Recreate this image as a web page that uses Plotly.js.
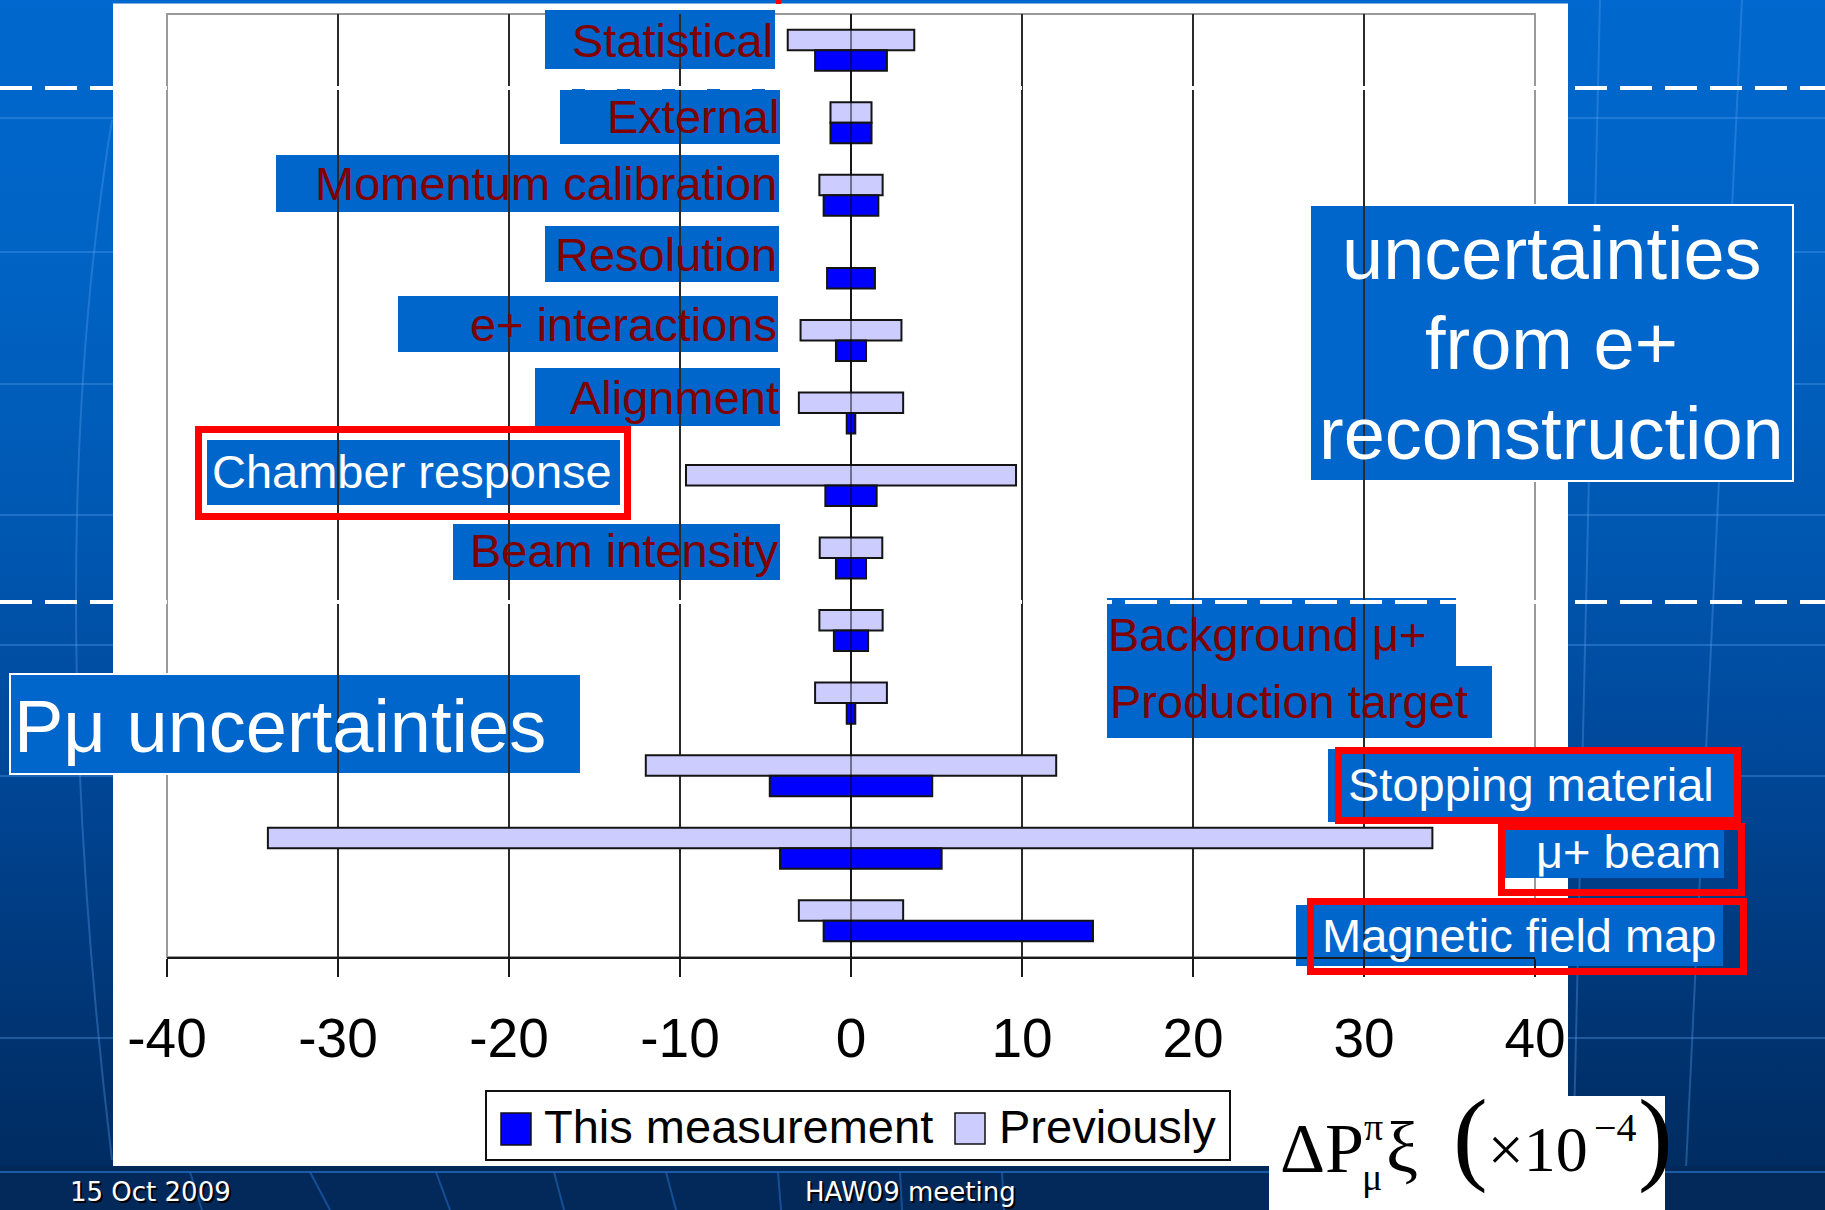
<!DOCTYPE html>
<html>
<head>
<meta charset="utf-8">
<script src="https://cdn.plot.ly/plotly-3.0.1.min.js"></script>
<style>
  html, body { margin: 0; padding: 0; width: 1825px; height: 1210px; overflow: hidden; }
  #slide {
    position: absolute; left: 0; top: 0; width: 1825px; height: 1210px;
    background: linear-gradient(180deg, #0068CE 0%, #0063C4 22%, #0057B0 45%, #00489A 62%, #003A7E 78%, #00306A 90%, #002A5C 100%);
  }
  #chart { position: absolute; left: 0; top: 0; width: 1825px; height: 1210px; }
</style>
</head>
<body>
<div id="slide"></div>
<div id="chart"></div>
<script>
// Systematic uncertainties on P_mu^pi xi, in units of 1e-4 (low / high ends of each bar)
const categories = [
  'Statistical', 'External', 'Momentum calibration', 'Resolution',
  'e+ interactions', 'Alignment', 'Chamber response', 'Beam intensity',
  'Background μ+', 'Production target', 'Stopping material', 'μ+ beam',
  'Magnetic field map'
];
const thisLow  = [-2.1, -1.2, -1.6, -1.4, -0.88, -0.25, -1.5, -0.88, -1.0, -0.25, -4.75, -4.15, -1.6];
const thisHigh = [ 2.1,  1.2,  1.6,  1.4,  0.88,  0.25,  1.5,  0.88,  1.0,  0.25,  4.75,  5.3, 14.15];
const prevLow  = [-3.7, -1.2, -1.85, null, -2.95, -3.05, -9.65, -1.83, -1.85, -2.1, -12.0, -34.1, -3.05];
const prevHigh = [ 3.7,  1.2,  1.85, null,  2.95,  3.05,  9.65,  1.83,  1.85,  2.1,  12.0,  34.0,  3.05];
const xTicks = [-40, -30, -20, -10, 0, 10, 20, 30, 40];
const seriesNames = ['This measurement', 'Previously'];
const seriesColors = ['#0000FF', '#CCCCFF'];

// ---- page geometry (pixels) ----
const W = 1825, H = 1210;
const ML = 167, MR = 290, MT = 14, MB = 253;
const PW = W - ML - MR, PH = H - MT - MB;
const px = v => (v - ML) / PW;
const py = v => 1 - (v - MT) / PH;
const SANS = 'Liberation Sans, Arial, sans-serif';
const SERIF = 'Liberation Serif, Times New Roman, serif';
const BOX_BLUE = '#0066CC';
const DARK_RED = '#800000';

function span(lo, hi) { return hi.map((h, i) => (h == null || lo[i] == null) ? null : h - lo[i]); }

const traces = [
  {
    type: 'bar', orientation: 'h', name: seriesNames[1],
    y: categories, base: prevLow, x: span(prevLow, prevHigh),
    marker: { color: seriesColors[1], line: { color: '#141414', width: 2 } },
    hoverinfo: 'skip'
  },
  {
    type: 'bar', orientation: 'h', name: seriesNames[0],
    y: categories, base: thisLow, x: span(thisLow, thisHigh),
    marker: { color: seriesColors[0], line: { color: '#141414', width: 2 } },
    hoverinfo: 'skip'
  }
];

// ---- helpers for page-space shapes and text ----
function rect(x0, y0, x1, y1, fill, lineColor, lineWidth, layer) {
  return {
    type: 'rect', xref: 'paper', yref: 'paper',
    x0: px(x0), x1: px(x1), y0: py(y1), y1: py(y0),
    fillcolor: fill || 'rgba(0,0,0,0)',
    line: { color: lineColor || 'rgba(0,0,0,0)', width: lineWidth || 0 },
    layer: layer || 'above'
  };
}
function seg(x0, y0, x1, y1, color, width, dash, layer) {
  return {
    type: 'line', xref: 'paper', yref: 'paper',
    x0: px(x0), x1: px(x1), y0: py(y0), y1: py(y1),
    line: { color, width, dash: dash || 'solid' }, layer: layer || 'above'
  };
}
// text placed by its left/right/centre x and its baseline y
function txt(text, x, baseline, anchor, size, color, family, descSize) {
  const desc = (family === SERIF ? 0.216 : 0.212) * (descSize || size);
  return {
    text, xref: 'paper', yref: 'paper', showarrow: false,
    x: px(x), y: py(baseline + desc + 2), xanchor: anchor, yanchor: 'bottom',
    font: { family: family || SANS, size, color }
  };
}

const shapes = [];
const annotations = [];

// faint pattern of the slide background
const patternCol = 'rgba(90,160,240,0.35)';
[118, 252, 384, 515, 645, 776, 1038].forEach(y => shapes.push(seg(0, y, W, y, patternCol, 2, 'solid', 'below')));
shapes.push({ type: 'path', xref: 'paper', yref: 'paper', layer: 'below',
  path: `M ${px(112)},${py(120)} Q ${px(40)},${py(560)} ${px(112)},${py(1160)}`,
  line: { color: patternCol, width: 2 } });
shapes.push(seg(1600, 0, 1572, 1210, patternCol, 2, 'solid', 'below'));
shapes.push(seg(1742, 0, 1684, 1210, patternCol, 2, 'solid', 'below'));

// white chart sheet
shapes.push(rect(113, 3.5, 1568, 1166, '#FFFFFF', null, 0, 'below'));
// footer band
shapes.push(rect(0, 1166, W, H, '#02295A', null, 0, 'below'));
shapes.push(seg(0, 1172, W, 1172, 'rgba(40,110,200,0.7)', 2, 'solid', 'below'));
[[190, 202], [310, 330], [436, 450], [554, 564], [666, 676], [778, 781], [900, 902], [1002, 1004]]
  .forEach(([a, b]) => shapes.push(seg(a, 1172, b, 1210, 'rgba(40,110,200,0.55)', 2, 'solid', 'below')));
// small red tick on the top strip
shapes.push(rect(776, 0, 781, 4, '#FF0000', null, 0, 'below'));

// plot-area frame
shapes.push({ type: 'rect', xref: 'paper', yref: 'paper', x0: 0, x1: 1, y0: 0, y1: 1,
  line: { color: '#9A9A9A', width: 2 }, fillcolor: 'rgba(0,0,0,0)', layer: 'between' });

// category label boxes: [box x0,y0,x1,y1], text x, anchor, baseline, white text, red frame
const labelBoxes = [
  { box: [545, 10, 775, 69],    tx: 775, anchor: 'right', base: 57 },
  { box: [560, 89, 780, 144],   tx: 781, anchor: 'right', base: 133 },
  { box: [276, 155, 779, 212],  tx: 779, anchor: 'right', base: 200 },
  { box: [545, 226, 779, 282],  tx: 779, anchor: 'right', base: 271 },
  { box: [398, 296, 778, 352],  tx: 779, anchor: 'right', base: 341 },
  { box: [535, 368, 780, 426],  tx: 781, anchor: 'right', base: 414 },
  { box: [207, 440, 620, 505],  tx: 210, anchor: 'left',  base: 488, white: true, frame: [195, 426, 631, 520] },
  { box: [453, 524, 780, 580],  tx: 781, anchor: 'right', base: 567 },
  { box: [1107, 598, 1456, 666], tx: 1106, anchor: 'left', base: 651 },
  { box: [1107, 666, 1492, 738], tx: 1108, anchor: 'left', base: 718 },
  { box: [1328, 749, 1737, 822], tx: 1346, anchor: 'left', base: 801, white: true, frame: [1335, 747, 1741, 824] },
  { box: [1502, 830, 1724, 878], tx: 1723, anchor: 'right', base: 868, white: true, frame: [1498, 823, 1745, 896] },
  { box: [1296, 905, 1723, 966], tx: 1320, anchor: 'left', base: 952, white: true, frame: [1307, 898, 1747, 975] }
];
labelBoxes.forEach((L, i) => {
  shapes.push(rect(L.box[0], L.box[1], L.box[2], L.box[3], BOX_BLUE, null, 0, 'between'));
  if (L.frame) {
    const f = L.frame, t = 3.5;
    shapes.push(rect(f[0] + t, f[1] + t, f[2] - t, f[3] - t, null, '#FF0000', 7, 'above'));
  }
  annotations.push(txt(categories[i], L.tx, L.base, L.anchor, 47, L.white ? '#FFFFFF' : DARK_RED));
});

// headline boxes
shapes.push(rect(10, 674, 581, 774, BOX_BLUE, '#FFFFFF', 2, 'between'));
annotations.push(txt('Pμ uncertainties', 12, 752, 'left', 74, '#FFFFFF'));
shapes.push(rect(1310, 205, 1793, 481, BOX_BLUE, '#FFFFFF', 2, 'between'));
annotations.push(txt('uncertainties', 1552, 279, 'center', 74, '#FFFFFF'));
annotations.push(txt('from e+', 1552, 369, 'center', 74, '#FFFFFF'));
annotations.push(txt('reconstruction', 1552, 459, 'center', 74, '#FFFFFF'));

// zero axis drawn over the bars
shapes.push({ type: 'line', xref: 'x', yref: 'paper', x0: 0, x1: 0, y0: 0, y1: 1,
  line: { color: 'rgba(0,0,0,0.45)', width: 2 }, layer: 'above' });

// section separators
[88, 602].forEach(y => shapes.push(seg(0, y, W, y, '#FFFFFF', 4, '32px,13px', 'above')));

// legend
shapes.push(rect(486, 1091, 1230, 1160, '#FFFFFF', '#111111', 2, 'above'));
shapes.push(rect(501, 1113, 531, 1145, seriesColors[0], '#111111', 1.5, 'above'));
shapes.push(rect(955, 1113, 985, 1144, seriesColors[1], '#111111', 1.5, 'above'));
annotations.push(txt(seriesNames[0], 542, 1143, 'left', 47, '#000000'));
annotations.push(txt(seriesNames[1], 997, 1143, 'left', 47, '#000000'));

// axis quantity label
shapes.push(rect(1269, 1096, 1665, 1210, '#FFFFFF', null, 0, 'above'));
annotations.push(txt('ΔP', 1278, 1172, 'left', 70, '#000000', SERIF));
annotations.push(txt('π', 1362, 1140, 'left', 38, '#000000', SERIF));
annotations.push(txt('μ', 1360, 1190, 'left', 38, '#000000', SERIF));
annotations.push(txt('ξ', 1384, 1172, 'left', 72, '#000000', SERIF));
annotations.push(txt('<span style="font-size:104px">(</span>×10', 1451, 1172, 'left', 64, '#000000', SERIF, 104));
annotations.push(txt('−4', 1592, 1141, 'left', 40, '#000000', SERIF));
annotations.push(txt(')', 1636, 1172, 'left', 104, '#000000', SERIF));

// footer
function footer(text, x) {
  const fam = 'DejaVu Sans, Verdana, sans-serif';
  annotations.push(txt(text, x + 2, 1203, 'left', 26, '#000000', fam));
  annotations.push(txt(text, x, 1201, 'left', 26, '#FFFFFF', fam));
}
footer('15 Oct 2009', 68);
footer('HAW09 meeting', 803);

const layout = {
  width: W, height: H,
  margin: { l: ML, r: MR, t: MT, b: MB, pad: 0 },
  paper_bgcolor: 'rgba(0,0,0,0)', plot_bgcolor: 'rgba(0,0,0,0)',
  barmode: 'group', bargap: 0.434, bargroupgap: 0,
  showlegend: false,
  xaxis: {
    range: [-40, 40], tickmode: 'array', tickvals: xTicks, ticktext: xTicks.map(String),
    showgrid: true, gridcolor: '#2A2A2A', gridwidth: 2, zeroline: false,
    showline: true, linecolor: '#1A1A1A', linewidth: 2,
    ticks: 'outside', ticklen: 18, tickwidth: 2, tickcolor: '#1A1A1A',
    tickfont: { family: SANS, size: 55, color: '#000000' }, ticklabelstandoff: 14,
    fixedrange: true
  },
  yaxis: {
    type: 'category', categoryorder: 'array', categoryarray: categories,
    autorange: 'reversed', showticklabels: false, showgrid: false,
    zeroline: false, showline: false, ticks: '', fixedrange: true
  },
  shapes, annotations
};

Plotly.newPlot('chart', traces, layout, { staticPlot: true, displayModeBar: false });
</script>
</body>
</html>
